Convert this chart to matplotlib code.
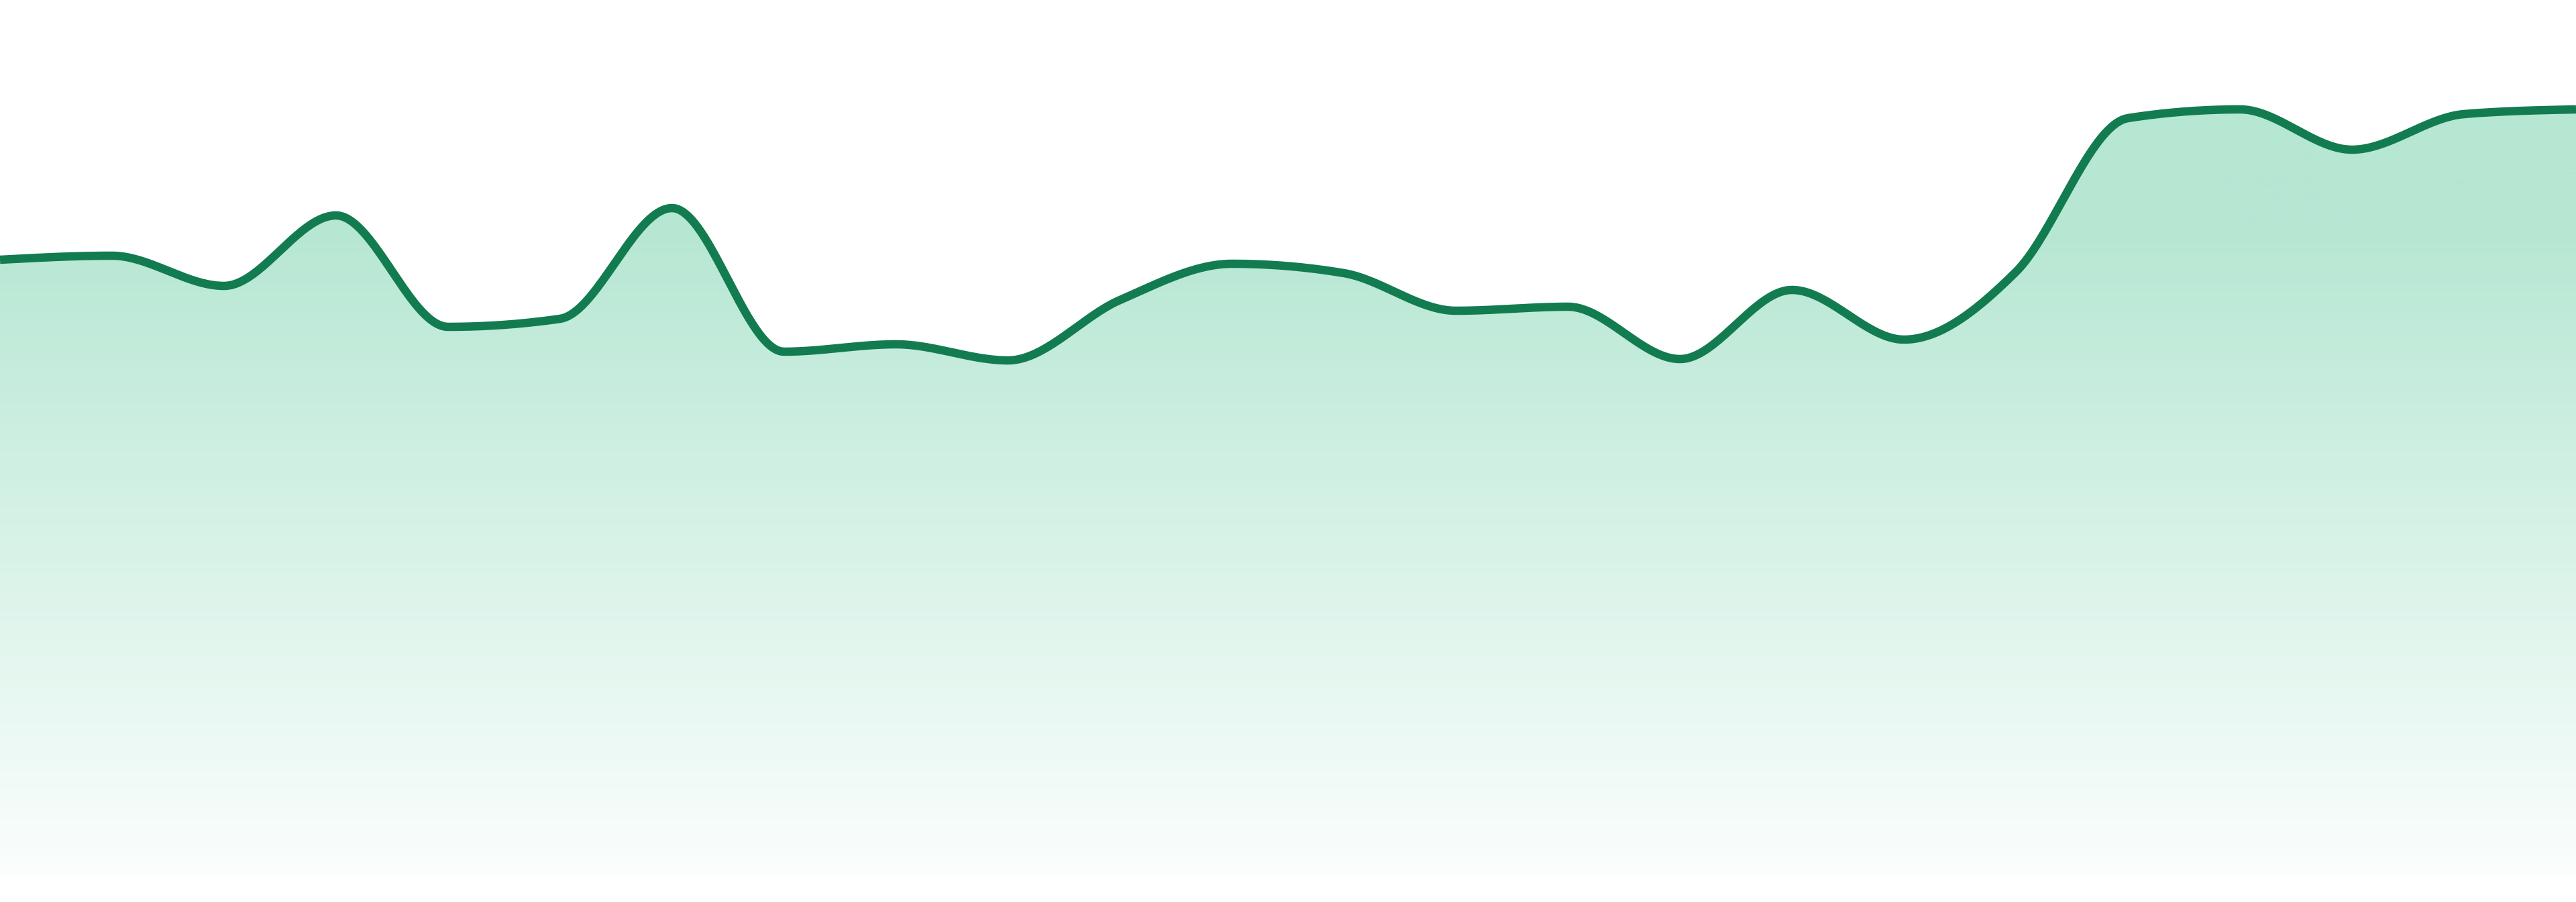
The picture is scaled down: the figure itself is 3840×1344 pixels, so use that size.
import numpy as np
import matplotlib
matplotlib.use("Agg")
import matplotlib.pyplot as plt
from matplotlib.colors import LinearSegmentedColormap

# ---- data ----
index = list(range(24))
values = [918, 924, 879, 984, 818, 830, 995, 781, 792, 768, 858, 912,
          898, 842, 848, 770, 873, 799, 900, 1129, 1142, 1082, 1135, 1142]
y_max = 1305

line_color = "#127c50"
fill_top = "#b6e7d3"
fill_bottom = "#fbfefd"


def monotone_x(x, y, n=40):
    """d3 curveMonotoneX equivalent."""
    x = np.asarray(x, float)
    y = np.asarray(y, float)
    m = len(x)
    h = np.diff(x)
    s = np.diff(y) / h
    t = np.zeros(m)
    for i in range(1, m - 1):
        s0, s1 = s[i - 1], s[i]
        h0, h1 = h[i - 1], h[i]
        p = (s0 * h1 + s1 * h0) / (h0 + h1)
        t[i] = (np.sign(s0) + np.sign(s1)) * min(abs(s0), abs(s1), 0.5 * abs(p))
    t[0] = (3 * s[0] - t[1]) / 2
    t[-1] = (3 * s[-1] - t[-2]) / 2
    xs, ys = [], []
    for i in range(m - 1):
        u = np.linspace(0, 1, n, endpoint=(i == m - 2))
        dx = h[i]
        x0, x1 = x[i], x[i + 1]
        y0, y1 = y[i], y[i + 1]
        cx1, cy1 = x0 + dx / 3, y0 + dx / 3 * t[i]
        cx2, cy2 = x1 - dx / 3, y1 - dx / 3 * t[i + 1]
        bx = (1 - u) ** 3 * x0 + 3 * (1 - u) ** 2 * u * cx1 + 3 * (1 - u) * u ** 2 * cx2 + u ** 3 * x1
        by = (1 - u) ** 3 * y0 + 3 * (1 - u) ** 2 * u * cy1 + 3 * (1 - u) * u ** 2 * cy2 + u ** 3 * y1
        xs.append(bx)
        ys.append(by)
    return np.concatenate(xs), np.concatenate(ys)


W, H = 3840, 1344
fig = plt.figure(figsize=(W / 100, H / 100), dpi=100)
bottom_px = H - y_max
ax = fig.add_axes([0, bottom_px / H, 1, y_max / H])
ax.set_xlim(index[0], index[-1])
ax.set_ylim(0, y_max)
ax.axis("off")

xs, ys = monotone_x(index, values)

# gradient fill under the curve
poly = ax.fill_between(xs, 0, ys, color="none", lw=0)
top_val = max(values)
cmap = LinearSegmentedColormap.from_list(
    "g", [(0.0, fill_bottom), (0.85, fill_top), (1.0, fill_top)])
grad = np.linspace(0, 1, 512).reshape(-1, 1)
img = ax.imshow(grad, extent=[index[0], index[-1], 0, top_val], origin="lower",
                aspect="auto", cmap=cmap, zorder=1)
path = poly.get_paths()[0]
img.set_clip_path(path, transform=ax.transData)

ax.plot(xs, ys, color=line_color, lw=9, solid_capstyle="butt",
        solid_joinstyle="round", zorder=3)
ax.set_xlim(index[0], index[-1])
ax.set_ylim(0, y_max)

fig.savefig("out.png", dpi=100, facecolor="white")
